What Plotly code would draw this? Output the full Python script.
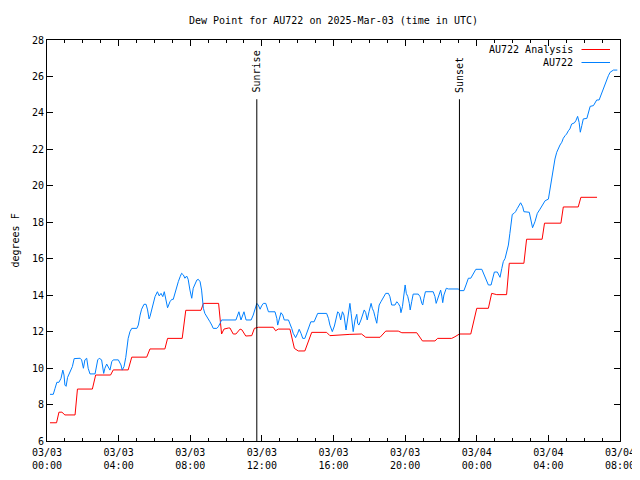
import pandas as pd
import plotly.graph_objects as go

# ---- data (minutes after 2025-03-03 00:00 UTC, degrees F) ----
analysis_minutes = [10, 32, 40, 50, 60, 94, 102, 152, 163, 213, 222, 272, 284, 334, 345, 395,
                    404, 453, 465, 516, 524, 575, 585, 593, 608, 613, 624, 633, 647, 653, 666,
                    686, 695, 708, 758, 766, 775, 814, 829, 842, 864, 887, 937, 948, 1015, 1054,
                    1068, 1116, 1135, 1177, 1189, 1239, 1258, 1300, 1309, 1356, 1367, 1382, 1420,
                    1440, 1479, 1490, 1507, 1540, 1549, 1598, 1607, 1659, 1667, 1722, 1730, 1780,
                    1789, 1843]
analysis_values = [7.0, 7.0, 7.58, 7.58, 7.43, 7.43, 8.85, 8.85, 9.62, 9.62, 9.9, 9.9, 10.6, 10.6,
                   11.05, 11.05, 11.63, 11.63, 13.17, 13.17, 13.55, 13.55, 11.87, 12.14, 12.2,
                   12.2, 11.87, 11.87, 12.14, 12.1, 11.76, 11.78, 12.18, 12.24, 12.24, 12.05,
                   12.14, 12.14, 11.08, 10.94, 10.94, 11.96, 11.96, 11.78, 11.85, 11.87, 11.69,
                   11.69, 12.03, 12.03, 11.94, 11.94, 11.49, 11.49, 11.63, 11.63, 11.72, 11.87,
                   11.87, 13.28, 13.28, 14.1, 14.03, 14.03, 15.75, 15.75, 17.07, 17.07, 17.95,
                   17.95, 18.84, 18.84, 19.37, 19.37]

obs_minutes = [10, 21, 27, 33, 40, 47, 53, 57, 60, 64, 69, 77, 85, 91, 100, 111, 116, 122, 127,
               133, 138, 144, 161, 170, 175, 183, 190, 194, 200, 205, 211, 217, 222, 239, 248,
               252, 258, 264, 267, 272, 278, 284, 301, 306, 312, 317, 325, 332, 337, 342, 345,
               351, 356, 362, 370, 376, 382, 388, 393, 398, 404, 412, 418, 423, 429, 435, 440,
               446, 451, 457, 462, 468, 473, 479, 485, 490, 496, 502, 507, 513, 518, 524, 529,
               535, 540, 546, 552, 557, 569, 574, 580, 585, 633, 643, 650, 660, 667, 684, 691,
               697, 703, 708, 714, 719, 725, 733, 742, 764, 770, 773, 777, 784, 790, 795, 809,
               814, 820, 825, 833, 840, 845, 851, 857, 864, 870, 878, 884, 895, 901, 907, 937,
               943, 948, 956, 963, 968, 974, 979, 984, 990, 995, 1002, 1008, 1013, 1015, 1019,
               1023, 1026, 1032, 1038, 1041, 1045, 1052, 1058, 1063, 1068, 1073, 1079, 1086,
               1090, 1095, 1099, 1105, 1109, 1113, 1119, 1125, 1130, 1135, 1144, 1149, 1155,
               1166, 1172, 1177, 1183, 1186, 1191, 1195, 1200, 1204, 1209, 1214, 1217, 1222,
               1227, 1244, 1250, 1256, 1259, 1263, 1268, 1294, 1300, 1304, 1309, 1315, 1319,
               1323, 1326, 1330, 1334, 1338, 1345, 1378, 1384, 1397, 1404, 1412, 1420, 1428,
               1437, 1457, 1464, 1473, 1479, 1488, 1493, 1499, 1509, 1518, 1524, 1529, 1535,
               1540, 1546, 1551, 1555, 1559, 1565, 1570, 1576, 1582, 1587, 1594, 1598, 1616,
               1622, 1627, 1635, 1643, 1652, 1658, 1669, 1680, 1685, 1691, 1696, 1702, 1708,
               1713, 1719, 1725, 1730, 1736, 1741, 1747, 1752, 1758, 1767, 1772, 1778, 1783,
               1787, 1792, 1797, 1809, 1814, 1820, 1831, 1836, 1842, 1850, 1855, 1861, 1868,
               1875, 1881, 1887, 1898, 1911]
obs_values = [8.56, 8.56, 8.89, 9.22, 9.22, 9.44, 9.89, 9.62, 9.07, 9.0, 9.49, 9.8, 10.08, 10.52,
              10.54, 10.54, 10.45, 9.99, 10.45, 10.54, 9.99, 9.68, 9.68, 10.45, 10.54, 10.45,
              9.71, 9.99, 10.22, 10.08, 9.89, 10.35, 10.45, 10.45, 10.17, 9.89, 10.08, 10.59,
              11.0, 11.63, 12.0, 12.18, 12.18, 12.36, 12.91, 13.23, 13.5, 13.5, 13.19, 12.7,
              12.82, 13.19, 13.55, 13.92, 14.19, 13.96, 14.1, 13.92, 14.19, 13.83, 13.31, 13.64,
              13.77, 13.77, 14.1, 14.56, 14.74, 15.01, 15.2, 15.11, 14.93, 15.05, 14.87, 14.28,
              13.83, 14.38, 14.65, 14.83, 14.87, 14.74, 14.28, 13.28, 13.0, 12.86, 12.73, 12.54,
              12.36, 12.18, 12.18, 12.27, 12.46, 12.64, 12.64, 13.09, 12.64, 13.09, 12.64, 12.64,
              12.91, 13.19, 13.55, 13.46, 13.23, 13.41, 13.55, 13.55, 13.09, 13.09, 12.73, 12.36,
              12.64, 13.04, 12.91, 12.64, 12.64, 12.46, 12.18, 11.91, 11.67, 11.91, 12.13, 11.91,
              11.63, 11.63, 11.91, 12.31, 12.54, 12.54, 12.82, 13.0, 13.0, 12.73, 12.36, 12.0,
              12.31, 12.64, 13.09, 13.0, 12.64, 13.09, 12.91, 12.09, 12.73, 13.23, 13.55, 13.0,
              12.18, 12.0, 12.64, 12.95, 12.46, 12.36, 12.64, 12.91, 13.19, 13.04, 12.64, 13.09,
              13.55, 13.28, 13.09, 12.82, 12.46, 13.0, 13.46, 13.64, 13.83, 14.01, 14.1, 14.1,
              13.92, 13.46, 13.46, 13.64, 13.55, 13.37, 13.04, 13.37, 14.01, 14.56, 14.1, 13.92,
              13.55, 13.19, 13.64, 14.06, 14.06, 13.92, 13.55, 13.46, 13.83, 14.19, 14.19, 13.92,
              13.55, 13.83, 14.1, 14.28, 13.95, 13.59, 14.01, 14.19, 14.38, 14.34, 14.34, 14.25,
              14.25, 14.56, 14.93, 14.93, 15.16, 15.42, 15.42, 15.11, 14.74, 14.56, 14.56, 14.93,
              15.27, 15.27, 14.98, 15.47, 15.84, 16.02, 16.39, 16.75, 17.39, 18.03, 18.43, 18.49,
              18.58, 18.76, 18.95, 19.07, 18.85, 18.58, 18.55, 18.12, 17.7, 18.03, 18.49, 18.72,
              18.91, 19.18, 19.27, 19.82, 20.37, 20.92, 21.47, 21.84, 22.06, 22.24, 22.39, 22.61,
              22.75, 22.84, 23.02, 23.12, 23.39, 23.45, 23.57, 23.81, 23.48, 22.94, 23.3, 23.67,
              23.7, 24.03, 24.36, 24.4, 24.58, 24.71, 24.71, 24.94, 25.22, 25.49, 25.8, 26.04,
              26.23, 26.35, 26.35]

sun_event_names = ["Sunrise", "Sunset"]
sun_event_times = ["2025-03-03 11:43", "2025-03-03 23:02"]
sun_line_top = 24.75

x_tick_times = ["2025-03-03 00:00", "2025-03-03 04:00", "2025-03-03 08:00", "2025-03-03 12:00",
                "2025-03-03 16:00", "2025-03-03 20:00", "2025-03-04 00:00", "2025-03-04 04:00",
                "2025-03-04 08:00"]
x_tick_labels = ["03/03<br>00:00", "03/03<br>04:00", "03/03<br>08:00", "03/03<br>12:00",
                 "03/03<br>16:00", "03/03<br>20:00", "03/04<br>00:00", "03/04<br>04:00",
                 "03/04<br>08:00"]
y_ticks = [6, 8, 10, 12, 14, 16, 18, 20, 22, 24, 26, 28]

series_names = ["AU722 Analysis", "AU722"]
series_colors = ["#ff0000", "#0080ff"]

base = pd.Timestamp("2025-03-03 00:00")
t_analysis = [base + pd.Timedelta(minutes=m) for m in analysis_minutes]
t_obs = [base + pd.Timedelta(minutes=m) for m in obs_minutes]

FONT = "DejaVu Sans Mono"
# the page body has an 8px default margin; size the figure so it fills the 640x480 window
PAGE_OFF = 8
FIG_W, FIG_H = 640 - PAGE_OFF, 480 - PAGE_OFF
ML, MT = 47 - PAGE_OFF, 40 - PAGE_OFF
MR = FIG_W - (620 - PAGE_OFF)
MB = FIG_H - (441 - PAGE_OFF)
PLOT_W = FIG_W - ML - MR
PLOT_H = FIG_H - MT - MB

def px_x(p):  # page pixel -> paper x
    return (p - 47) / PLOT_W

def px_y(p):  # page pixel -> paper y
    return (441 - p) / PLOT_H

fig = go.Figure()
fig.add_trace(go.Scatter(x=t_analysis, y=analysis_values, mode="lines", name=series_names[0],
                         line=dict(color=series_colors[0], width=1), showlegend=False))
fig.add_trace(go.Scatter(x=t_obs, y=obs_values, mode="lines", name=series_names[1],
                         line=dict(color=series_colors[1], width=1), showlegend=False))

for name, t in zip(sun_event_names, sun_event_times):
    fig.add_shape(type="line", xref="x", yref="y", x0=t, x1=t, y0=6, y1=sun_line_top,
                  line=dict(color="black", width=1))
    fig.add_annotation(x=t, y=25.0, xref="x", yref="y", text=name, textangle=-90,
                       showarrow=False, xanchor="center", yanchor="bottom",
                       font=dict(family=FONT, size=10, color="black"))

# legend drawn gnuplot-style: text on the left, sample line on the right
legend_py = [49.5, 62.5]
for name, color, lp in zip(series_names, series_colors, legend_py):
    ly = px_y(lp)
    fig.add_annotation(x=px_x(575), y=ly, xref="paper", yref="paper", text=name,
                       showarrow=False, xanchor="right", yanchor="middle",
                       font=dict(family=FONT, size=10, color="black"))
    fig.add_shape(type="line", xref="paper", yref="paper", x0=px_x(581.5), x1=px_x(610),
                  y0=ly, y1=ly, line=dict(color=color, width=1))

# y-axis title
fig.add_annotation(x=0, y=0.5, xref="paper", yref="paper", xshift=15 - 47, text="degrees F",
                   textangle=-90, showarrow=False, xanchor="center", yanchor="middle",
                   font=dict(family=FONT, size=10, color="black"))

fig.update_layout(
    width=FIG_W, height=FIG_H,
    margin=dict(l=ML, r=MR, t=MT, b=MB, autoexpand=False),
    paper_bgcolor="white", plot_bgcolor="white",
    font=dict(family=FONT, size=10, color="black"),
    title=dict(text="Dew Point for AU722 on 2025-Mar-03 (time in UTC)", xref="paper", x=0.5,
               yref="container", y=1 - (20 - PAGE_OFF) / FIG_H,
               xanchor="center", yanchor="middle", font=dict(family=FONT, size=10)),
    showlegend=False,
)
fig.update_xaxes(
    type="date", range=[x_tick_times[0], x_tick_times[-1]],
    tickvals=x_tick_times, ticktext=x_tick_labels,
    ticks="inside", ticklen=6, tickcolor="black", tickwidth=1,
    minor=dict(ticks="inside", ticklen=3, dtick=3600000, tickcolor="black", tickwidth=1),
    showline=True, linecolor="black", linewidth=1, mirror="ticks",
    showgrid=False, zeroline=False, tickfont=dict(family=FONT, size=10),
    automargin=False, ticklabelstandoff=2,
)
fig.update_yaxes(
    range=[6, 28], tickvals=y_ticks,
    ticks="inside", ticklen=6, tickcolor="black", tickwidth=1,
    showline=True, linecolor="black", linewidth=1, mirror="ticks",
    showgrid=False, zeroline=False, tickfont=dict(family=FONT, size=10),
    automargin=False,
)

fig.write_html("out.html")
